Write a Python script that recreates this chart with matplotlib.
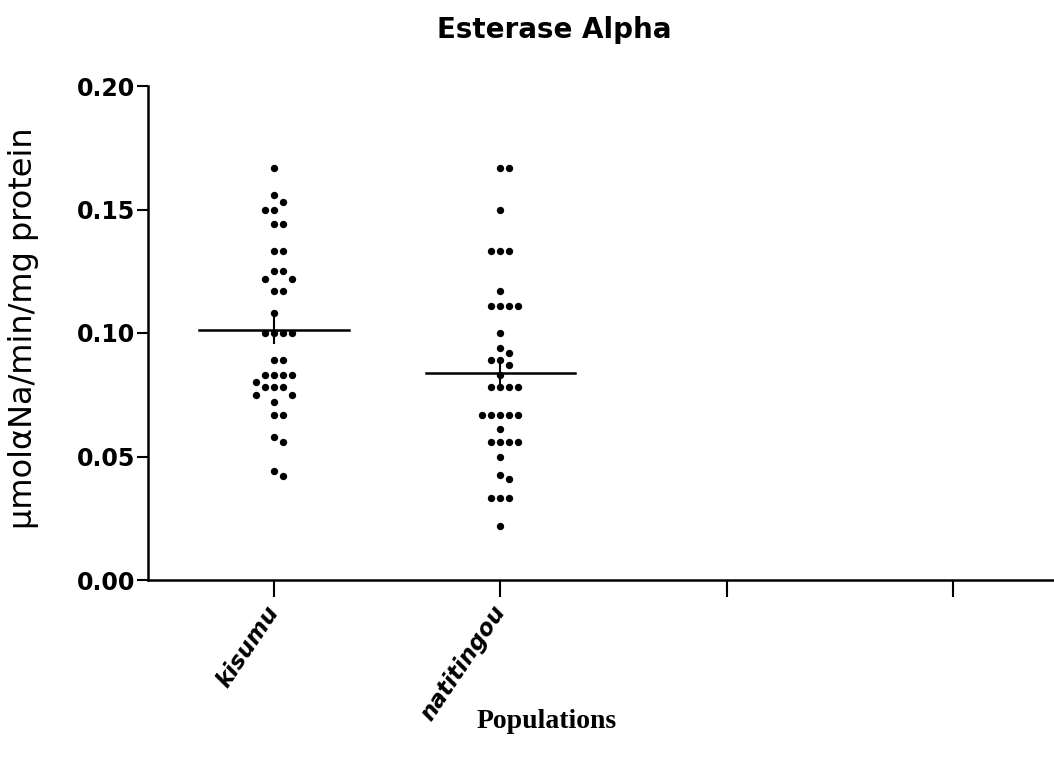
import numpy as np
import matplotlib
matplotlib.use("Agg")
import matplotlib.pyplot as plt

# values (umol aNa/min/mg protein)
categories = ["kisumu", "natitingou", "", ""]
kisumu = [0.167, 0.156, 0.153, 0.150, 0.150, 0.144, 0.144, 0.133, 0.133,
          0.125, 0.125, 0.122, 0.122, 0.117, 0.117, 0.108,
          0.100, 0.100, 0.100, 0.100, 0.089, 0.089,
          0.083, 0.083, 0.083, 0.083, 0.080, 0.078, 0.078, 0.078,
          0.075, 0.075, 0.072, 0.067, 0.067, 0.058, 0.056, 0.044, 0.042]
natitingou = [0.167, 0.167, 0.150, 0.133, 0.133, 0.133, 0.117,
              0.111, 0.111, 0.111, 0.111, 0.100, 0.094, 0.092, 0.089, 0.089,
              0.087, 0.083, 0.078, 0.078, 0.078, 0.078,
              0.067, 0.067, 0.067, 0.067, 0.067, 0.061,
              0.056, 0.056, 0.056, 0.056, 0.050, 0.0425, 0.041,
              0.033, 0.033, 0.033, 0.022]
yticks = [0.00, 0.05, 0.10, 0.15, 0.20]

W, H = 1054, 769
fig = plt.figure(figsize=(W / 100, H / 100), dpi=100)
ax = fig.add_axes([148 / W, (H - 580) / H, (W - 148) / W, 494 / H])

xmin, xmax = 0.443, 4.446
ymin, ymax = 0.0, 0.2
ax.set_xlim(xmin, xmax)
ax.set_ylim(ymin, ymax)

# pixel scale of the axes, used to spread the dots like a column scatter
x_px = (W - 148) / (xmax - xmin)
y_px = 494 / (ymax - ymin)


def swarm(vals, center, dot=8.0, step=9.0):
    placed = []
    out_x, out_y = [], []
    for v in sorted(vals, reverse=True):
        y = v * y_px
        for k in [0, 1, -1, 2, -2, 3, -3, 4, -4, 5, -5]:
            x = k * step
            if all((x - px) ** 2 + (y - py) ** 2 >= dot ** 2 for px, py in placed):
                break
        placed.append((x, y))
        out_x.append(center + x / x_px)
        out_y.append(v)
    return out_x, out_y


for i, vals in enumerate([kisumu, natitingou]):
    c = i + 1
    sx, sy = swarm(vals, c)
    ax.plot(sx, sy, "o", color="black", markersize=5.3, markeredgewidth=0)
    m = np.mean(vals)
    sem = np.std(vals, ddof=1) / np.sqrt(len(vals))
    ax.plot([c - 0.33, c + 0.33], [m, m], color="black", lw=1.8)
    ax.plot([c, c], [m - sem, m + sem], color="black", lw=1.5)

ax.spines["top"].set_visible(False)
ax.spines["right"].set_visible(False)
for s in ["left", "bottom"]:
    ax.spines[s].set_linewidth(1.8)

ax.set_yticks(yticks)
ax.set_yticklabels([f"{t:.2f}" for t in yticks], fontsize=17, fontweight="bold")
ax.tick_params(axis="y", length=8, width=1.5, pad=1.5)

ax.set_xticks([1, 2, 3, 4])
ax.set_xticklabels(categories, fontsize=16.5, fontweight="bold", style="italic",
                   rotation=56, ha="right", va="center", rotation_mode="anchor")
ax.tick_params(axis="x", length=12, width=1.5, pad=8)

fig.text(554 / W, 1 - 30 / H, "Esterase Alpha", ha="center", va="center",
         fontsize=20, fontweight="bold")
fig.text(24 / W, 1 - 328 / H, "µmolαNa/min/mg protein", rotation=90,
         ha="center", va="center", fontsize=23)
fig.text(547 / W, 1 - 722 / H, "Populations", ha="center", va="center",
         family="Liberation Serif", fontweight="bold", fontsize=20)

fig.savefig("out.png", dpi=100)
